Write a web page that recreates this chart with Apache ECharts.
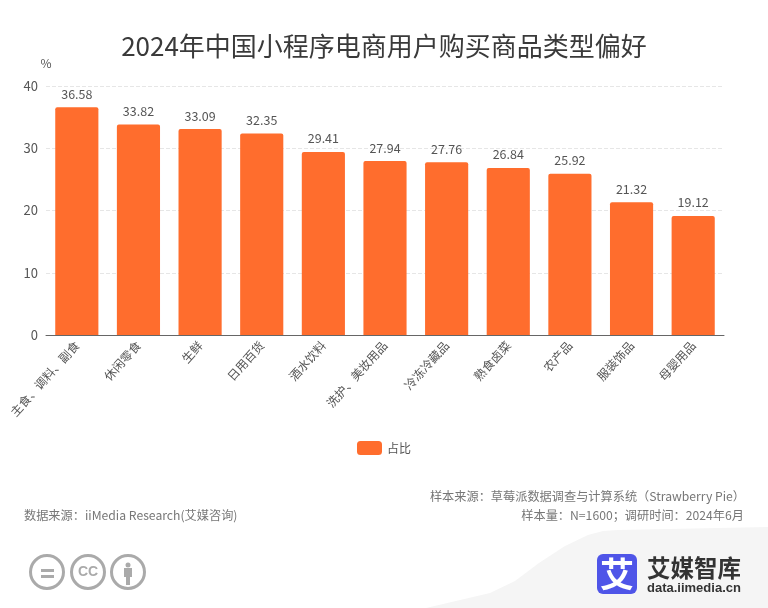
<!DOCTYPE html>
<html>
<head>
<meta charset="utf-8">
<title>2024年中国小程序电商用户购买商品类型偏好</title>
<script src="https://cdn.jsdelivr.net/npm/echarts@6/dist/echarts.min.js"></script>
<style>
html, body { margin: 0; padding: 0; background: #fff; }
#chart { width: 768px; height: 608px; }
</style>
</head>
<body>
<div id="chart"></div>
<script>
var FONT = '"Noto Sans CJK SC", "Noto Sans", sans-serif';

var categories = ['主食、调料、副食', '休闲零食', '生鲜', '日用百货', '酒水饮料', '洗护、美妆用品', '冷冻冷藏品', '熟食卤菜', '农产品', '服装饰品', '母婴用品'];
var shareValues = [36.58, 33.82, 33.09, 32.35, 29.41, 27.94, 27.76, 26.84, 25.92, 21.32, 19.12];
var yTicks = [0, 10, 20, 30, 40];
var seriesName = '占比';

var myChart = echarts.init(document.getElementById('chart'));

// 页脚的来源文字和 logo 都用 graphic 画
var footerText = function (x, y, text, align) {
    return {
        type: 'text', x: x, y: y, silent: true,
        style: { text: text, fontFamily: FONT, fontSize: 12.2, fill: '#777', align: align, verticalAlign: 'middle' }
    };
};
var ccCircle = function (cx) {
    return {
        type: 'circle', silent: true,
        shape: { cx: cx, cy: 572, r: 16.5 },
        style: { fill: '#fff', stroke: '#aaa', lineWidth: 3 }
    };
};
var grayBar = function (x, y, w, h) {
    return { type: 'rect', silent: true, shape: { x: x, y: y, width: w, height: h }, style: { fill: '#aaa' } };
};

myChart.setOption({
    animation: false,
    backgroundColor: '#fff',
    title: {
        text: '2024年中国小程序电商用户购买商品类型偏好',
        left: 'center',
        top: 28,
        textStyle: { fontFamily: FONT, fontSize: 26, fontWeight: 'normal', color: '#3a3a3a' }
    },
    legend: {
        data: [seriesName],
        left: 'center',
        top: 436,
        itemWidth: 25,
        itemHeight: 14,
        textStyle: { fontFamily: FONT, fontSize: 12, color: '#555' }
    },
    grid: { left: 46, right: 44, top: 86, bottom: 273 },
    xAxis: {
        type: 'category',
        data: categories,
        axisTick: { show: false },
        axisLine: { lineStyle: { color: '#666' } },
        axisLabel: { rotate: 48, interval: 0, margin: 8, fontFamily: FONT, fontSize: 12, color: '#555' }
    },
    yAxis: {
        type: 'value',
        name: '%',
        nameGap: 17,
        nameTextStyle: { fontFamily: FONT, fontSize: 12, color: '#555' },
        min: yTicks[0],
        max: yTicks[yTicks.length - 1],
        interval: yTicks[1] - yTicks[0],
        axisLine: { show: false },
        axisTick: { show: false },
        axisLabel: { fontFamily: FONT, fontSize: 13, color: '#555', margin: 8 },
        splitLine: { lineStyle: { type: 'dashed', color: '#e6e6e6' } }
    },
    series: [{
        name: seriesName,
        type: 'bar',
        data: shareValues,
        barWidth: '70%',
        itemStyle: { color: '#ff6d2d', borderRadius: [2, 2, 0, 0] },
        label: { show: true, position: 'top', distance: 7, fontFamily: FONT, fontSize: 12.5, color: '#555' }
    }],
    graphic: [
        {
            type: 'polygon', silent: true, z: -1,
            shape: { points: [[426, 608], [490, 593], [515, 581], [539, 563], [565, 546], [588, 535], [603, 531], [618, 530], [768, 527], [768, 608]] },
            style: { fill: '#f5f5f5' }
        },
        footerText(745, 496, '样本来源：草莓派数据调查与计算系统（Strawberry Pie）', 'right'),
        footerText(24, 515, '数据来源：iiMedia Research(艾媒咨询)', 'left'),
        footerText(744, 515, '样本量：N=1600；调研时间：2024年6月', 'right'),
        ccCircle(47), ccCircle(88), ccCircle(128),
        grayBar(41, 569, 13, 3), grayBar(41, 575, 13, 3),
        { type: 'text', x: 88, y: 572, silent: true, style: { text: 'CC', fontFamily: 'Liberation Sans', fontWeight: 'bold', fontSize: 14, fill: '#aaa', align: 'center', verticalAlign: 'middle' } },
        { type: 'circle', silent: true, shape: { cx: 128, cy: 565, r: 2.5 }, style: { fill: '#aaa' } },
        grayBar(124, 568, 8, 9), grayBar(126, 577, 4, 8),
        { type: 'rect', silent: true, shape: { x: 597, y: 554, width: 40, height: 40, r: 6 }, style: { fill: '#4f55e8' } },
        { type: 'text', x: 617, y: 574, silent: true, style: { text: '艾', fontFamily: FONT, fontWeight: 'bold', fontSize: 34, fill: '#fff', align: 'center', verticalAlign: 'middle' } },
        { type: 'text', x: 647, y: 568, silent: true, style: { text: '艾媒智库', fontFamily: FONT, fontWeight: 'bold', fontSize: 23.5, fill: '#333', align: 'left', verticalAlign: 'middle' } },
        { type: 'text', x: 647, y: 588, silent: true, style: { text: 'data.iimedia.cn', fontFamily: 'Liberation Sans', fontWeight: 'bold', fontSize: 13, fill: '#333', align: 'left', verticalAlign: 'middle' } }
    ]
});
</script>
</body>
</html>
